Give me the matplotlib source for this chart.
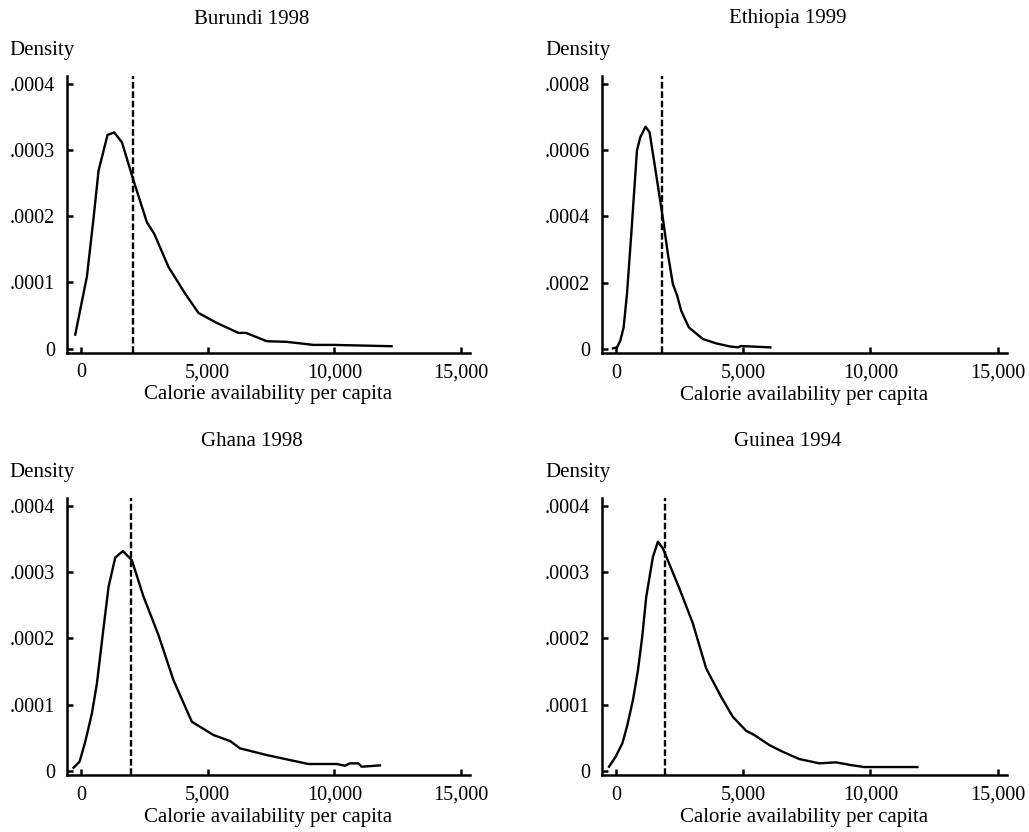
import matplotlib
matplotlib.use("Agg")
import matplotlib.pyplot as plt
from matplotlib.ticker import FuncFormatter

plt.rcParams["font.family"] = ["Liberation Serif", "DejaVu Serif"]

# Kernel density estimates of calorie availability, read per country
burundi_x = [-237, 224, 480, 684, 1039, 1303, 1605, 2066, 2592, 2882, 3447, 4105,
             4632, 5355, 6211, 6513, 7329, 8118, 9171, 9961, 12263]
burundi_y = [0.0000211, 0.0001090, 0.0001950, 0.000269, 0.000323, 0.0003266,
             0.000312, 0.000254, 0.000191, 0.0001736, 0.0001233, 0.000083,
             0.0000538, 0.0000387, 0.0000236, 0.0000236, 0.0000111, 0.0000101,
             0.0000055, 0.0000055, 0.0000035]

ethiopia_x = [-131, 26, 157, 288, 419, 589, 812, 942, 1152, 1309, 1505, 1806,
              2029, 2225, 2395, 2552, 2853, 3403, 3927, 4450, 4777, 4908, 6060]
ethiopia_y = [0.000002, 0.000005, 0.0000252, 0.0000654, 0.000166, 0.000347,
              0.000599, 0.000639, 0.000671, 0.000654, 0.000558, 0.000408,
              0.000287, 0.000196, 0.000161, 0.0001157, 0.0000654, 0.0000302,
              0.0000171, 0.000008, 0.000005, 0.000009, 0.000005]

ghana_x = [-303, -66, 158, 421, 618, 855, 1079, 1342, 1645, 2000, 2461, 3053,
           3645, 4368, 5224, 5882, 6276, 7329, 8974, 10092, 10421, 10618, 10947,
           11079, 11803]
ghana_y = [0.000005, 0.0000141, 0.0000442, 0.0000869, 0.000132, 0.000208,
           0.000278, 0.000322, 0.000332, 0.000318, 0.000263, 0.000205,
           0.000137, 0.0000744, 0.0000543, 0.0000452, 0.0000342, 0.0000241,
           0.0000106, 0.0000106, 0.000008, 0.0000116, 0.0000116, 0.0000065,
           0.0000085]

guinea_x = [-288, -26, 236, 419, 654, 851, 1021, 1178, 1440, 1636, 1832, 2487,
            3010, 3534, 4123, 4581, 5105, 5432, 6021, 6545, 7199, 7984, 8639,
            9228, 9751, 11846]
guinea_y = [0.0000065, 0.0000216, 0.0000417, 0.0000668, 0.000107, 0.000152,
            0.000203, 0.000263, 0.000323, 0.000346, 0.000336, 0.000275,
            0.000223, 0.000155, 0.000112, 0.0000819, 0.0000608, 0.0000543,
            0.0000392, 0.0000291, 0.0000181, 0.0000116, 0.0000131, 0.000009,
            0.000006, 0.000006]

titles = ["Burundi 1998", "Ethiopia 1999", "Ghana 1998", "Guinea 1994"]
curves_x = [burundi_x, ethiopia_x, ghana_x, guinea_x]
curves_y = [burundi_y, ethiopia_y, ghana_y, guinea_y]
thresholds = [2040, 1810, 1970, 1900]
y_tops = [0.0004, 0.0008, 0.0004, 0.0004]
x_ticks = [0, 5000, 10000, 15000]

W, H = 1029, 832
fig = plt.figure(figsize=(W / 100, H / 100), dpi=100)

# panel boxes in pixels: left, top, right, bottom
boxes = [(66.7, 76, 470, 352.5), (601.7, 76, 1006.7, 353),
         (66.7, 498, 470, 775), (601.7, 498, 1006.7, 775)]
title_pos = [(251.7, 19), (787.6, 19), (251.7, 441.7), (787.6, 441.7)]
dens_pos = [(9, 50.7), (545, 50.7), (9, 472.3), (545, 472.3)]


def fmt_y(v, pos):
    if abs(v) < 1e-12:
        return "0"
    return ("%.4f" % v).lstrip("0")


for i in range(4):
    l, t, r, b = boxes[i]
    ax = fig.add_axes([l / W, 1 - b / H, (r - l) / W, (b - t) / H])
    top = y_tops[i]
    step = top / 4
    ax.plot(curves_x[i], curves_y[i], color="black", lw=1.7)
    ax.axvline(thresholds[i], color="black", lw=1.7, linestyle=(0, (2.85, 1.15)))
    ax.set_xlim(-575, 15360)
    ax.set_ylim(-top * 0.015, top * 1.03)
    ax.set_xticks(x_ticks)
    ax.xaxis.set_major_formatter(FuncFormatter(lambda v, p: "{:,.0f}".format(v)))
    ax.set_yticks([step * k for k in range(5)])
    ax.yaxis.set_major_formatter(FuncFormatter(fmt_y))
    for side in ["top", "right"]:
        ax.spines[side].set_visible(False)
    for side in ["left", "bottom"]:
        ax.spines[side].set_linewidth(1.8)
    ax.tick_params(direction="in", length=4.3, width=1.8, labelsize=14.6)
    ax.tick_params(axis="y", pad=8.2)
    ax.tick_params(axis="x", pad=7.6)
    ax.set_xlabel("Calorie availability per capita", fontsize=15)
    ax.xaxis.set_label_coords(0.5, -0.118)

    tx, ty = title_pos[i]
    fig.text(tx / W, 1 - ty / H, titles[i], ha="center", va="center", fontsize=15)
    dx, dy = dens_pos[i]
    fig.text(dx / W, 1 - dy / H, "Density", ha="left", va="center", fontsize=15)

fig.savefig("out.png", dpi=100, facecolor="white")
